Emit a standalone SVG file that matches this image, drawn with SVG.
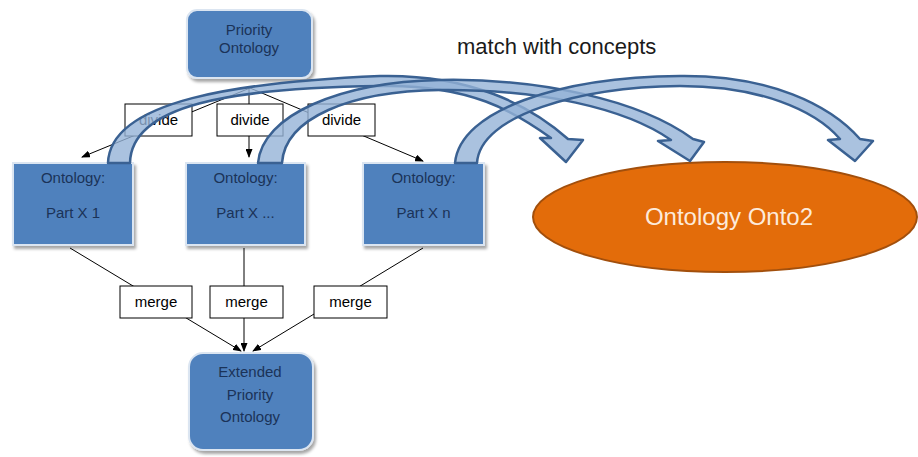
<svg xmlns="http://www.w3.org/2000/svg" width="918" height="457" viewBox="0 0 918 457">
<style>
.box{fill:#4f81bd;stroke:#dbe5f1;stroke-width:2;filter:url(#sh)}
.bt{font-family:"Liberation Sans",Arial,sans-serif;font-size:15px;fill:#1b3358;text-anchor:middle}
.lb{fill:#fff;stroke:#000;stroke-width:1}
.lt{font-family:"Liberation Sans",Arial,sans-serif;font-size:15px;fill:#000;text-anchor:middle}
.ln{stroke:#000;stroke-width:1;fill:none;marker-end:url(#ah)}
.arc{fill:#95b3d7;fill-opacity:0.8;stroke:#3a6192;stroke-width:2.5;stroke-linejoin:round}
</style>
<defs>
<filter id="sh" x="-10%" y="-10%" width="125%" height="130%">
<feDropShadow dx="2" dy="3" stdDeviation="1.5" flood-color="#000" flood-opacity="0.35"/>
</filter>
<marker id="ah" markerWidth="9" markerHeight="7" refX="8" refY="3.5" orient="auto" markerUnits="userSpaceOnUse">
<path d="M0,0 L9,3.5 L0,7 z" fill="#000"/>
</marker>
</defs>
<rect width="918" height="457" fill="#fff"/>

<g id="connectors">
<line class="ln" x1="250" y1="88" x2="82" y2="157"/>
<line class="ln" x1="249" y1="88" x2="249" y2="157"/>
<line class="ln" x1="250" y1="88" x2="423" y2="161"/>
<line class="ln" x1="70" y1="248" x2="241" y2="351"/>
<line class="ln" x1="244" y1="248" x2="244" y2="351"/>
<line class="ln" x1="423" y1="248" x2="253" y2="351"/>
<g id="lbl-divide1"><rect class="lb" x="125" y="104" width="67" height="32"/><text class="lt" x="158.5" y="125">divide</text></g>
<g id="lbl-divide2"><rect class="lb" x="217" y="104" width="66" height="32"/><text class="lt" x="250" y="125">divide</text></g>
<g id="lbl-divide3"><rect class="lb" x="308" y="104" width="67" height="32"/><text class="lt" x="341.5" y="125">divide</text></g>
<g id="lbl-merge1"><rect class="lb" x="120" y="286" width="72" height="32"/><text class="lt" x="156" y="307">merge</text></g>
<g id="lbl-merge2"><rect class="lb" x="210" y="286" width="73" height="32"/><text class="lt" x="246.5" y="307">merge</text></g>
<g id="lbl-merge3"><rect class="lb" x="314" y="286" width="73" height="32"/><text class="lt" x="350.5" y="307">merge</text></g>
</g>

<g id="priority">
<rect class="box" x="187" y="10" width="125" height="68" rx="10"/>
<text class="bt" x="249" y="35">Priority</text>
<text class="bt" x="249" y="53">Ontology</text>
</g>
<g id="part1">
<rect class="box" x="13" y="163" width="120" height="82"/>
<text class="bt" x="73" y="183">Ontology:</text>
<text class="bt" x="73" y="218">Part X 1</text>
</g>
<g id="part2">
<rect class="box" x="186" y="163" width="119" height="82"/>
<text class="bt" x="245.5" y="183">Ontology:</text>
<text class="bt" x="245.5" y="218">Part X ...</text>
</g>
<g id="partn">
<rect class="box" x="363" y="163" width="121" height="82"/>
<text class="bt" x="423.5" y="183">Ontology:</text>
<text class="bt" x="423.5" y="218">Part X n</text>
</g>
<g id="extended">
<rect class="box" x="189" y="353" width="124" height="97" rx="14"/>
<text class="bt" x="250" y="377">Extended</text>
<text class="bt" x="250" y="400">Priority</text>
<text class="bt" x="250" y="422">Ontology</text>
</g>
<g id="onto2">
<ellipse cx="725" cy="217" rx="192" ry="55" fill="#e36c0a" stroke="#a24f0c" stroke-width="2"/>
<text x="729" y="225" font-family="'Liberation Sans',Arial,sans-serif" font-size="24" fill="#fdeada" text-anchor="middle">Ontology Onto2</text>
</g>

<g id="match-arrows">
<path class="arc" d="M108,163 C110,100 240,82 380,76 C470,74 530,105 568,139 L583,140 L566,162 L540,138 L551,138 C515,112 470,84 380,86 C230,88 131,105 130,163 Z"/>
<path class="arc" d="M258,163 C262,115 340,82 440,80 C540,78 640,100 693,139 L704,142 L690,161 L658,141 L671,140 C625,108 540,89 440,90 C350,91 285,118 282,163 Z"/>
<path class="arc" d="M455,163 C460,110 560,77 680,76 C770,75 830,105 860,139 L873,141 L855,161 L828,140 L840,139 C815,110 760,86 680,86 C580,87 480,115 477,163 Z"/>
</g>
<text id="match-label" x="457" y="54" font-family="'Liberation Sans',Arial,sans-serif" font-size="22" fill="#1a1a1a">match with concepts</text>
</svg>
